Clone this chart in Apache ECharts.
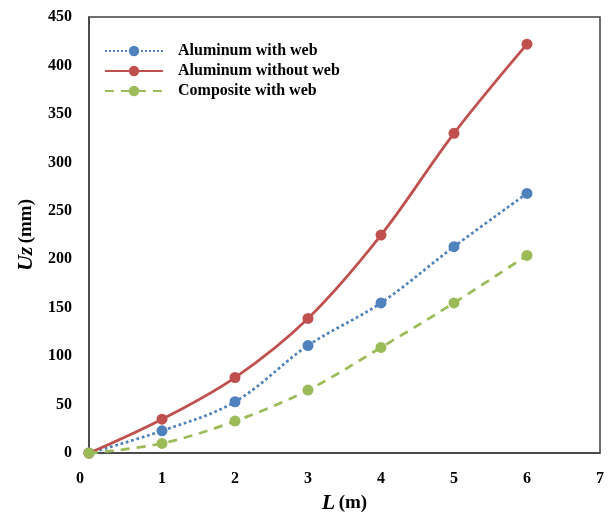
<!DOCTYPE html>
<html>
<head>
<meta charset="utf-8">
<script src="https://cdn.jsdelivr.net/npm/echarts@6/dist/echarts.min.js"></script>
<style>html,body{margin:0;padding:0;background:#fff;}#c{width:610px;height:519px;}</style>
</head>
<body>
<div id="c"></div>
<script>
var xValues = [0, 1, 2, 3, 4, 5, 6];
var aluminumWithWeb = [0, 23, 53, 111, 155, 213, 268];
var aluminumWithoutWeb = [0, 35, 78, 139, 225, 330, 422];
var compositeWithWeb = [0, 10, 33, 65, 109, 155, 204];
var seriesNames = ['Aluminum with web', 'Aluminum without web', 'Composite with web'];

function pairs(ys){ return xValues.map(function(x,i){ return [x, ys[i]]; }); }

var FONT = '"Liberation Serif", "Times New Roman", serif';
var chart = echarts.init(document.getElementById('c'), null, {renderer:'canvas'});
var colors = ['#4F81BD', '#C0504D', '#9BBB59'];
var styles = ['dotted', 'solid', [9, 7]];
var datasets = [aluminumWithWeb, aluminumWithoutWeb, compositeWithWeb];

chart.setOption({
  animation: false,
  backgroundColor: '#fff',
  grid: {left: 89, top: 17, right: 10, bottom: 59, show: true, borderColor: '#404040', borderWidth: 1.5, containLabel: false},
  legend: {
    orient: 'vertical', left: 99, top: 38, padding: [5, 5, 5, 5],
    itemWidth: 58, itemHeight: 13, itemGap: 4,
    data: seriesNames,
    textStyle: {fontFamily: FONT, fontWeight: 'bold', fontSize: 16, color: '#000', padding: [0,0,0,10]}
  },
  xAxis: {
    type: 'value', min: 0, max: 7, interval: 1,
    axisLine: {show: true, lineStyle: {color: '#404040', width: 1.5}},
    axisTick: {show: false}, splitLine: {show: false},
    axisLabel: {
      margin: 18, color: '#000', fontFamily: FONT, fontWeight: 'bold', fontSize: 16,
      formatter: function(v){ return v === 0 ? '{z|0}' : String(v); },
      rich: {z: {padding: [0, 18, 0, 0], fontFamily: FONT, fontWeight: 'bold', fontSize: 16, color: '#000'}}
    },
    name: '{i|L} {n|(m)}', nameLocation: 'middle', nameGap: 38,
    nameTextStyle: {rich: {
      i: {fontFamily: FONT, fontWeight: 'bold', fontStyle: 'italic', fontSize: 22, color: '#000'},
      n: {fontFamily: FONT, fontWeight: 'bold', fontSize: 19, color: '#000'}
    }}
  },
  yAxis: {
    type: 'value', min: 0, max: 450, interval: 50,
    axisLine: {show: true, lineStyle: {color: '#404040', width: 1.5}},
    axisTick: {show: false}, splitLine: {show: false},
    axisLabel: {margin: 17, color: '#000', fontFamily: FONT, fontWeight: 'bold', fontSize: 16},
    name: '{i|Uz} {n|(mm)}', nameLocation: 'middle', nameGap: 52, nameRotate: 90,
    nameTextStyle: {rich: {
      i: {fontFamily: FONT, fontWeight: 'bold', fontStyle: 'italic', fontSize: 22, color: '#000'},
      n: {fontFamily: FONT, fontWeight: 'bold', fontSize: 19, color: '#000'}
    }}
  },
  series: datasets.map(function(d, k){
    return {
      name: seriesNames[k], type: 'line', data: pairs(d), smooth: 0.35, clip: false,
      symbol: 'circle', symbolSize: 11,
      itemStyle: {color: colors[k]},
      lineStyle: {color: colors[k], width: 2.75, type: styles[k]},
      z: 2 + k
    };
  })
});
</script>
</body>
</html>
